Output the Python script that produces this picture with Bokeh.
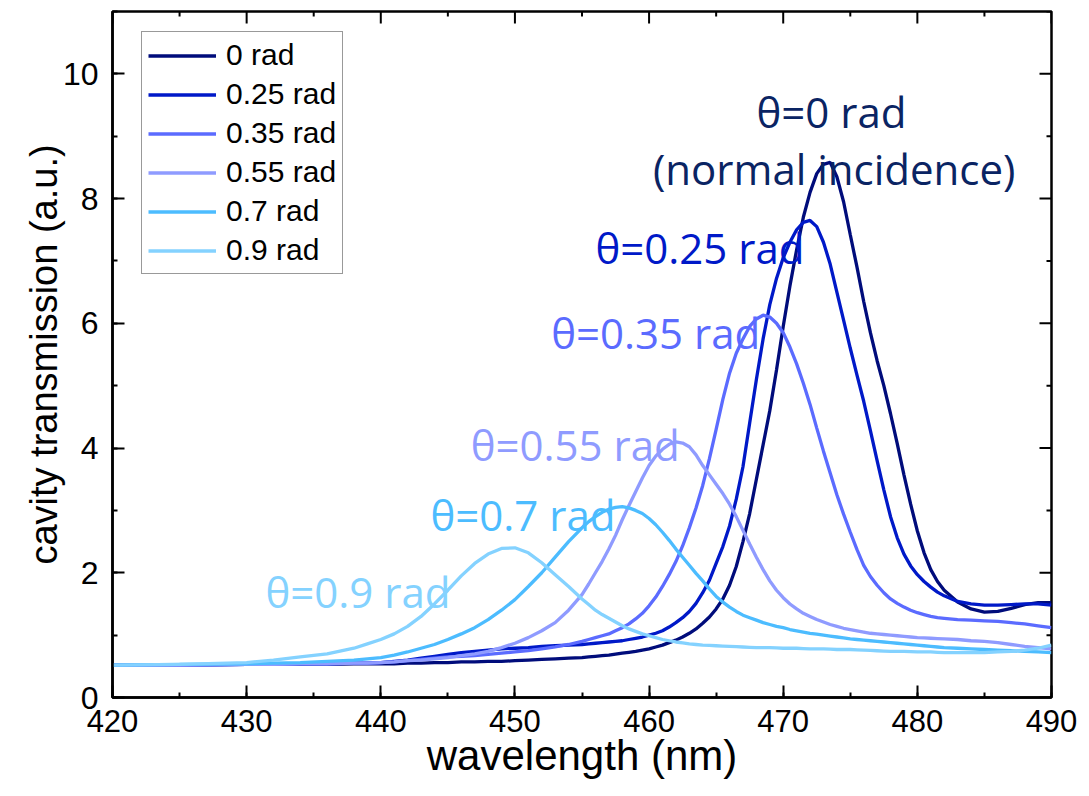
import math
from bokeh.plotting import figure
from bokeh.models import (Range1d, SingleIntervalTicker, Legend, LegendItem, Label)
from bokeh.embed import file_html
from bokeh.resources import INLINE

# ---------------- data ----------------
wavelength = [420, 425, 430, 432, 434, 436, 438, 439,
              440, 441, 442, 443, 444, 445, 446, 447, 448, 449,
              450, 451, 452, 453, 454, 455,
              455.5, 456, 456.5, 457, 457.5, 458, 458.5, 459, 459.5,
              460, 460.5, 461, 461.5, 462, 462.5, 463, 463.5, 464, 464.5,
              465, 465.5, 466, 466.5, 467, 467.5, 468, 468.5, 469, 469.5,
              470, 470.5, 471, 471.5, 472, 472.5, 473, 473.5, 474, 474.5,
              475, 475.5, 476, 476.5, 477, 477.5, 478, 478.5, 479, 479.5,
              480, 480.5, 481, 481.5, 482,
              483, 484, 485, 486, 487, 488, 489, 490]

t_000 = [0.52, 0.52, 0.53, 0.53, 0.53, 0.53, 0.54, 0.54,
         0.54, 0.54, 0.55, 0.55, 0.56, 0.56, 0.57, 0.57, 0.58, 0.58,
         0.59, 0.60, 0.61, 0.62, 0.63, 0.64,
         0.65, 0.66, 0.67, 0.68, 0.695, 0.71, 0.725, 0.74, 0.76,
         0.78, 0.81, 0.84, 0.88, 0.92, 0.97, 1.03, 1.10, 1.19, 1.29,
         1.42, 1.58, 1.80, 2.10, 2.50, 2.95, 3.50, 4.05, 4.60, 5.25,
         5.95, 6.60, 7.18, 7.70, 8.10, 8.40, 8.55, 8.58, 8.35, 7.95,
         7.42, 6.90, 6.35, 5.85, 5.40, 5.00, 4.55, 4.07, 3.57, 3.10,
         2.67, 2.32, 2.05, 1.86, 1.72,
         1.53, 1.42, 1.37, 1.38, 1.43, 1.49, 1.52, 1.52]

t_025 = [0.52, 0.52, 0.53, 0.53, 0.54, 0.54, 0.55, 0.55,
         0.56, 0.58, 0.60, 0.63, 0.66, 0.69, 0.72, 0.74, 0.76, 0.78,
         0.79, 0.80, 0.82, 0.83, 0.84, 0.85,
         0.86, 0.87, 0.88, 0.89, 0.90, 0.91, 0.93, 0.95, 0.97,
         1.00, 1.03, 1.07, 1.13, 1.20, 1.28, 1.38, 1.51, 1.68, 1.88,
         2.15, 2.42, 2.75, 3.18, 3.70, 4.40, 5.10, 5.75, 6.30, 6.72,
         7.05, 7.30, 7.50, 7.62, 7.65, 7.55, 7.30, 6.95, 6.50, 6.05,
         5.60, 5.17, 4.75, 4.28, 3.80, 3.33, 2.90, 2.56, 2.30, 2.11,
         1.97, 1.86, 1.77, 1.69, 1.63,
         1.54, 1.50, 1.48, 1.48, 1.49, 1.50, 1.50, 1.48]

t_035 = [0.52, 0.52, 0.53, 0.53, 0.54, 0.54, 0.55, 0.55,
         0.56, 0.57, 0.59, 0.61, 0.63, 0.65, 0.66, 0.67, 0.69, 0.71,
         0.73, 0.75, 0.78, 0.81, 0.85, 0.90,
         0.93, 0.96, 0.99, 1.02, 1.07, 1.12, 1.18, 1.26, 1.35,
         1.47, 1.61, 1.78, 1.97, 2.18, 2.43, 2.72, 3.04, 3.40, 3.83,
         4.30, 4.78, 5.20, 5.52, 5.75, 5.95, 6.07, 6.13, 6.10, 6.00,
         5.85, 5.62, 5.35, 5.04, 4.70, 4.32, 3.95, 3.60, 3.25, 2.94,
         2.65, 2.37, 2.12, 1.94, 1.80, 1.68, 1.58, 1.51, 1.45, 1.40,
         1.36, 1.33, 1.30, 1.28, 1.27,
         1.25, 1.24, 1.23, 1.22, 1.20, 1.18, 1.15, 1.12]

t_055 = [0.52, 0.52, 0.53, 0.53, 0.54, 0.54, 0.55, 0.55,
         0.56, 0.57, 0.59, 0.60, 0.62, 0.64, 0.67, 0.70, 0.74, 0.80,
         0.87, 0.96, 1.07, 1.20, 1.40, 1.65,
         1.82, 2.00, 2.18, 2.38, 2.60, 2.85, 3.08, 3.30, 3.52,
         3.72, 3.87, 3.98, 4.06, 4.10, 4.08, 4.02, 3.89, 3.72, 3.57,
         3.42, 3.27, 3.10, 2.90, 2.68, 2.46, 2.25, 2.05, 1.87, 1.72,
         1.60, 1.50, 1.42, 1.35, 1.30, 1.25, 1.21, 1.17, 1.14, 1.11,
         1.09, 1.07, 1.05, 1.03, 1.02, 1.01, 1.00, 0.99, 0.98, 0.97,
         0.96, 0.955, 0.95, 0.945, 0.94,
         0.93, 0.91, 0.90, 0.88, 0.85, 0.82, 0.80, 0.78]

t_070 = [0.52, 0.53, 0.54, 0.55, 0.56, 0.58, 0.60, 0.62,
         0.64, 0.68, 0.73, 0.79, 0.85, 0.93, 1.02, 1.12, 1.25, 1.40,
         1.57, 1.78, 2.00, 2.25, 2.50, 2.72,
         2.82, 2.90, 2.97, 3.02, 3.05, 3.06, 3.04, 3.00, 2.95,
         2.87, 2.77, 2.65, 2.52, 2.38, 2.25, 2.12, 1.99, 1.87, 1.74,
         1.62, 1.53, 1.45, 1.38, 1.32, 1.28, 1.24, 1.20, 1.17, 1.14,
         1.12, 1.09, 1.07, 1.05, 1.03, 1.015, 1.00, 0.985, 0.97, 0.955,
         0.94, 0.93, 0.92, 0.91, 0.90, 0.89, 0.88, 0.87, 0.86, 0.85,
         0.84, 0.83, 0.82, 0.81, 0.80,
         0.79, 0.78, 0.77, 0.76, 0.75, 0.74, 0.73, 0.72]

t_090 = [0.52, 0.53, 0.56, 0.60, 0.65, 0.70, 0.79, 0.86,
         0.93, 1.02, 1.14, 1.30, 1.50, 1.72, 1.95, 2.15, 2.30, 2.39,
         2.40, 2.32, 2.16, 1.97, 1.78, 1.58,
         1.49, 1.40, 1.33, 1.27, 1.21, 1.15, 1.10, 1.06, 1.02,
         0.99, 0.96, 0.93, 0.91, 0.89, 0.875, 0.86, 0.85, 0.84, 0.835,
         0.83, 0.825, 0.82, 0.815, 0.81, 0.805, 0.80, 0.80, 0.80, 0.795,
         0.79, 0.79, 0.79, 0.785, 0.78, 0.78, 0.78, 0.775, 0.77, 0.77,
         0.77, 0.765, 0.76, 0.755, 0.75, 0.745, 0.74, 0.74, 0.74, 0.735,
         0.73, 0.73, 0.73, 0.725, 0.72,
         0.72, 0.72, 0.72, 0.73, 0.74, 0.76, 0.79, 0.84]

series = [t_000, t_025, t_035, t_055, t_070, t_090]
legend_labels = ["0 rad", "0.25 rad", "0.35 rad", "0.55 rad", "0.7 rad", "0.9 rad"]
colors = ["#000c7b", "#0019c8", "#5b6bff", "#8f9bff", "#4cbcff", "#84d2ff"]

annot_texts = ["θ=0 rad", "(normal incidence)", "θ=0.25 rad", "θ=0.35 rad",
               "θ=0.55 rad", "θ=0.7 rad", "θ=0.9 rad"]
annot_colors = ["#0a2463", "#0a2463", "#0019c8", "#5b6bff", "#8f9bff",
                "#4cbcff", "#84d2ff"]
annot_x = [473.6, 473.8, 456.0, 452.7, 446.7, 443.7, 431.4]
annot_y = [9.40, 8.48, 7.21, 5.85, 4.05, 2.93, 1.70]
annot_align = ["center", "center", "left", "left", "left", "left", "left"]

x_major_ticks = [420, 430, 440, 450, 460, 470, 480, 490]
x_minor_ticks = [425, 435, 445, 455, 465, 475, 485]
y_major_ticks = [0, 2, 4, 6, 8, 10]
y_minor_ticks = [1, 3, 5, 7, 9, 11]

# ---------------- figure ----------------
p = figure(width=1081, height=788, output_backend="svg", toolbar_location=None,
           x_range=Range1d(420, 490), y_range=Range1d(0, 11),
           min_border_left=112, min_border_right=30, min_border_top=11,
           min_border_bottom=91)
p.xgrid.visible = False
p.ygrid.visible = False
p.outline_line_color = "black"
p.outline_line_width = 2.5
p.background_fill_color = "white"
p.border_fill_color = "white"

p.xaxis.ticker = SingleIntervalTicker(interval=10, num_minor_ticks=2)
p.yaxis.ticker = SingleIntervalTicker(interval=2, num_minor_ticks=2)
for ax in (p.xaxis[0], p.yaxis[0]):
    ax.axis_line_width = 2.5
    ax.axis_line_color = "black"
    ax.major_tick_in = 12
    ax.major_tick_out = 0
    ax.minor_tick_in = 5
    ax.minor_tick_out = 0
    ax.major_tick_line_width = 2
    ax.minor_tick_line_width = 2
    ax.major_tick_line_color = "black"
    ax.minor_tick_line_color = "black"
    ax.major_label_text_font = "Liberation Sans"
    ax.major_label_text_color = "black"
    ax.axis_label_text_font = "Liberation Sans"
    ax.axis_label_text_font_style = "normal"
    ax.axis_label_text_color = "black"

p.xaxis.major_label_text_font_size = "31px"
p.yaxis.major_label_text_font_size = "32px"
p.xaxis.major_label_standoff = 12
p.yaxis.major_label_standoff = 14
p.xaxis.axis_label = "wavelength (nm)"
p.yaxis.axis_label = "cavity transmission (a.u.)"
p.xaxis.axis_label_text_font_size = "42px"
p.yaxis.axis_label_text_font_size = "38px"
p.xaxis.axis_label_standoff = -3
p.yaxis.axis_label_standoff = -5

# inward ticks on the top and right sides of the frame
tick_kw = dict(line_color="black", line_width=2, length_units="screen")
p.ray(x=x_major_ticks, y=[11] * len(x_major_ticks), length=12,
      angle=-math.pi / 2, **tick_kw)
p.ray(x=x_minor_ticks, y=[11] * len(x_minor_ticks), length=5,
      angle=-math.pi / 2, **tick_kw)
p.ray(x=[490] * len(y_major_ticks), y=y_major_ticks, length=12,
      angle=math.pi, **tick_kw)
p.ray(x=[490] * len(y_minor_ticks), y=y_minor_ticks, length=5,
      angle=math.pi, **tick_kw)

renderers = []
for ys, c in zip(series, colors):
    r = p.line(wavelength, ys, line_color=c, line_width=3.3)
    renderers.append(r)

items = [LegendItem(label=lab, renderers=[r]) for lab, r in zip(legend_labels, renderers)]
legend = Legend(items=items, location=(29, 423),
                label_text_font="Liberation Sans", label_text_font_size="30px",
                label_text_color="black",
                glyph_width=68, glyph_height=31, label_height=31, spacing=5,
                padding=6, margin=0, label_standoff=10,
                border_line_color="#333333", border_line_width=1,
                background_fill_color="white", background_fill_alpha=1)
p.add_layout(legend)

for t, c, x, y, a in zip(annot_texts, annot_colors, annot_x, annot_y, annot_align):
    p.add_layout(Label(x=x, y=y, text=t, text_color=c, text_font="Open Sans",
                       text_font_size="42px", text_align=a,
                       text_baseline="alphabetic"))

open("out.html", "w").write(file_html(p, INLINE))
